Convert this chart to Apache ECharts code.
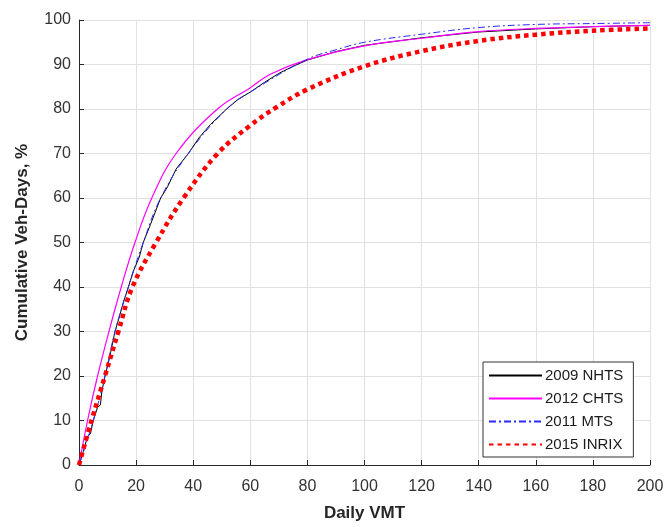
<!DOCTYPE html>
<html>
<head>
<meta charset="utf-8">
<script src="https://cdn.jsdelivr.net/npm/echarts@6/dist/echarts.min.js"></script>
<style>
  html, body { margin: 0; padding: 0; background: #fff; }
  #chart { width: 667px; height: 527px; }
</style>
</head>
<body>
<div id="chart"></div>
<script>
  // values (x = daily VMT, y = cumulative %)
  const nhtsX = [0, 1.5, 3, 4, 5, 6.5, 7.5, 8, 9.1, 10.5, 12.6, 14, 15.5, 17.3, 19, 21.1, 22.5, 25, 28.6, 31, 34, 38.3, 42, 46, 51.7, 56, 60, 65, 70, 75, 80, 90, 100, 120, 140, 160, 180, 200]
  const nhtsY = [0, 3, 6.5, 7, 10, 13, 13.5, 16.5, 20, 23.5, 30, 33, 36.5, 40, 43.5, 46.7, 50, 54, 60, 62.5, 66.5, 70, 73.5, 76.5, 80, 82.3, 83.8, 86, 88, 89.6, 91, 92.9, 94.3, 96, 97.3, 98, 98.5, 98.8]

  const chtsX = [0, 3, 6.5, 10.5, 14.8, 19.6, 25.5, 34, 48.5, 60, 67, 80, 100, 120, 140, 160, 180, 200]
  const chtsY = [0, 10, 20, 30, 40, 50, 60, 70, 80, 84.8, 87.8, 91.1, 94.2, 95.9, 97.4, 98.1, 98.5, 98.8]

  const mtsX = [0, 5, 9.1, 12.6, 17.3, 22.5, 28.6, 38.3, 51.7, 60, 80, 90, 100, 120, 140, 160, 180, 200]
  const mtsY = [0, 10, 20, 30, 40, 50, 60, 70, 80, 83.8, 91.2, 93.3, 95, 96.8, 98.3, 99, 99.2, 99.4]

  const inrixX = [0, 4.4, 9.1, 13.8, 18.7, 27, 36.6, 48.6, 60, 69.2, 80, 100, 120, 140, 160, 180, 200]
  const inrixY = [0, 10, 20, 30, 40, 50, 60, 70, 76.3, 80.4, 84.4, 89.6, 93, 95.3, 96.7, 97.6, 98.1]

  const seriesNames = ['2009 NHTS', '2012 CHTS', '2011 MTS', '2015 INRIX']

  function pairs(xs, ys) {
    return xs.map((x, i) => [x, ys[i]])
  }

  const font = 'Liberation Sans, Arial, Helvetica, sans-serif'
  const chart = echarts.init(document.getElementById('chart'))

  const option = {
    animation: false,
    backgroundColor: '#fff',
    grid: {
      left: 79,
      right: 17,
      top: 20,
      bottom: 57
    },
    legend: {
      data: seriesNames,
      orient: 'vertical',
      left: 483,
      top: 362,
      width: 150,
      padding: [6, 10, 5, 5],
      itemWidth: 53,
      itemHeight: 14,
      itemGap: 8,
      backgroundColor: '#fff',
      borderColor: '#333',
      borderWidth: 1,
      borderRadius: 0,
      // hide the symbol the line legend icon adds, keep the line itself
      itemStyle: { color: 'rgba(0,0,0,0)', borderWidth: 0, opacity: 0 },
      textStyle: {
        fontFamily: font,
        fontSize: 15,
        color: '#1a1a1a',
        padding: [0, 0, 0, -2]
      }
    },
    xAxis: {
      type: 'value',
      min: 0,
      max: 200,
      interval: 20,
      name: 'Daily VMT',
      nameLocation: 'middle',
      nameGap: 40,
      nameTextStyle: { fontFamily: font, fontSize: 17, fontWeight: 'bold', color: '#262626' },
      axisLine: { lineStyle: { color: '#262626', width: 1 } },
      axisTick: { inside: true, length: 5, lineStyle: { color: '#262626' } },
      axisLabel: { fontFamily: font, fontSize: 16, color: '#333', margin: 14 },
      splitLine: { show: true, lineStyle: { color: '#e1e1e1', width: 1 } }
    },
    yAxis: {
      type: 'value',
      min: 0,
      max: 100,
      interval: 10,
      name: 'Cumulative Veh-Days, %',
      nameLocation: 'middle',
      nameGap: 48,
      nameTextStyle: { fontFamily: font, fontSize: 17, fontWeight: 'bold', color: '#262626' },
      axisLine: { show: true, lineStyle: { color: '#262626', width: 1 } },
      axisTick: { show: true, inside: true, length: 5, lineStyle: { color: '#262626' } },
      axisLabel: { fontFamily: font, fontSize: 16, color: '#333', margin: 8 },
      splitLine: { show: true, lineStyle: { color: '#e1e1e1', width: 1 } }
    },
    series: [
      {
        name: seriesNames[0],
        type: 'line',
        symbol: 'none',
        data: pairs(nhtsX, nhtsY),
        lineStyle: { color: '#000', width: 1 },
        itemStyle: { color: '#000' },
        z: 2
      },
      {
        name: seriesNames[1],
        type: 'line',
        symbol: 'none',
        smooth: 0.4,
        data: pairs(chtsX, chtsY),
        lineStyle: { color: '#ff00ff', width: 1.2 },
        itemStyle: { color: '#ff00ff' },
        z: 3
      },
      {
        name: seriesNames[2],
        type: 'line',
        symbol: 'none',
        smooth: 0.4,
        data: pairs(mtsX, mtsY),
        lineStyle: { color: '#2a2aff', width: 1, type: [7, 3, 2, 3] },
        itemStyle: { color: '#2a2aff' },
        z: 4
      },
      {
        name: seriesNames[3],
        type: 'line',
        symbol: 'none',
        smooth: 0.4,
        data: pairs(inrixX, inrixY),
        lineStyle: { color: '#ff0000', width: 4.5, type: [4.5, 4] },
        itemStyle: { color: '#ff0000' },
        z: 5
      }
    ]
  }

  chart.setOption(option)
</script>
</body>
</html>
